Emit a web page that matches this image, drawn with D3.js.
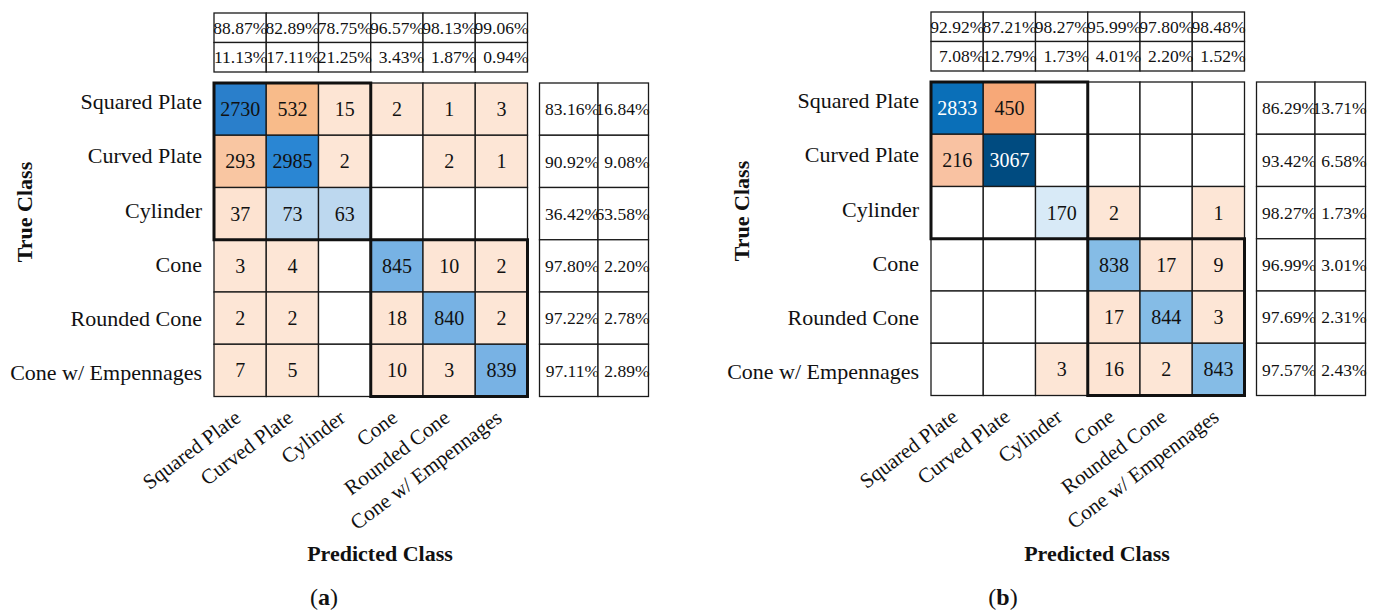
<!DOCTYPE html>
<html>
<head>
<meta charset="utf-8">
<script src="https://cdn.jsdelivr.net/npm/d3@7"></script>
<style>
  html, body { margin: 0; padding: 0; background: #fff; }
  svg { display: block; }
  text { font-family: "Liberation Serif", "Times New Roman", serif; fill: #111; }
</style>
</head>
<body>
<svg id="chart" width="1375" height="610"></svg>
<script>
// Class names shared by both confusion matrices
const classes = ["Squared Plate", "Curved Plate", "Cylinder", "Cone", "Rounded Cone", "Cone w/ Empennages"];

// (a) counts: rows = true class, columns = predicted class (0 = empty cell)
const countsA = [
  [2730, 532, 15, 2, 1, 3],
  [293, 2985, 2, 0, 2, 1],
  [37, 73, 63, 0, 0, 0],
  [3, 4, 0, 845, 10, 2],
  [2, 2, 0, 18, 840, 2],
  [7, 5, 0, 10, 3, 839]
];
// (a) column summary (precision / false discovery) and row summary (recall / miss rate), in %
const colCorrectA = [88.87, 82.89, 78.75, 96.57, 98.13, 99.06];
const colWrongA   = [11.13, 17.11, 21.25, 3.43, 1.87, 0.94];
const rowCorrectA = [83.16, 90.92, 36.42, 97.80, 97.22, 97.11];
const rowWrongA   = [16.84, 9.08, 63.58, 2.20, 2.78, 2.89];

// (b) counts
const countsB = [
  [2833, 450, 0, 0, 0, 0],
  [216, 3067, 0, 0, 0, 0],
  [0, 0, 170, 2, 0, 1],
  [0, 0, 0, 838, 17, 9],
  [0, 0, 0, 17, 844, 3],
  [0, 0, 3, 16, 2, 843]
];
const colCorrectB = [92.92, 87.21, 98.27, 95.99, 97.80, 98.48];
const colWrongB   = [7.08, 12.79, 1.73, 4.01, 2.20, 1.52];
const rowCorrectB = [86.29, 93.42, 98.27, 96.99, 97.69, 97.57];
const rowWrongB   = [13.71, 6.58, 1.73, 3.01, 2.31, 2.43];

// Class groups outlined with a heavy border
const groups = [[0, 2], [3, 5]];

const svg = d3.select("#chart");
const pct = v => v.toFixed(2) + "%";

function drawPanel(p) {
  const g = svg.append("g");
  const x = d3.scaleBand().domain(classes).range([p.left, p.left + p.size]);
  const y = d3.scaleBand().domain(classes).range([p.top, p.top + p.size]);
  const bw = x.bandwidth(), bh = y.bandwidth();

  // colour scales: blue for correct / dominant predictions, orange for the rest
  const blue = d3.scaleLinear().domain(p.blueDomain).range(p.blueRange).clamp(true);
  const orange = d3.scaleLinear().domain(p.orangeDomain).range(p.orangeRange).clamp(true);

  const cells = [];
  p.counts.forEach((row, i) => row.forEach((v, j) => {
    const isBlue = i === j || v > row[i];
    const fill = v === 0 ? "#ffffff" : (isBlue ? blue(v) : orange(v));
    cells.push({ i, j, v, fill });
  }));

  const cg = g.selectAll("g.cell").data(cells).join("g").attr("class", "cell");
  cg.append("rect")
    .attr("x", d => x(classes[d.j]))
    .attr("y", d => y(classes[d.i]))
    .attr("width", bw).attr("height", bh)
    .attr("fill", d => d.fill)
    .attr("stroke", "#1a1a1a").attr("stroke-width", 1.3);
  cg.filter(d => d.v > 0).append("text")
    .attr("x", d => x(classes[d.j]) + bw / 2)
    .attr("y", d => y(classes[d.i]) + bh / 2)
    .attr("dy", "0.35em")
    .attr("text-anchor", "middle")
    .style("font-size", "20px")
    .style("fill", d => d3.hsl(d.fill).l < 0.45 ? "#ffffff" : "#111")
    .text(d => d.v);

  // heavy group outlines
  g.selectAll("rect.group").data(groups).join("rect")
    .attr("class", "group")
    .attr("x", d => x(classes[d[0]]))
    .attr("y", d => y(classes[d[0]]))
    .attr("width", d => x(classes[d[1]]) + bw - x(classes[d[0]]))
    .attr("height", d => y(classes[d[1]]) + bh - y(classes[d[0]]))
    .attr("fill", "none").attr("stroke", "#111").attr("stroke-width", 3);

  // column summary table above the matrix
  const ty = d3.scaleBand().domain([0, 1]).range([p.top - 70, p.top - 11]);
  [p.colCorrect, p.colWrong].forEach((vals, r) => {
    const rg = g.append("g");
    rg.selectAll("rect").data(vals).join("rect")
      .attr("x", (d, j) => x(classes[j]))
      .attr("y", ty(r)).attr("width", bw).attr("height", ty.bandwidth())
      .attr("fill", "#fff").attr("stroke", "#1a1a1a").attr("stroke-width", 1.3);
    rg.selectAll("text").data(vals).join("text")
      .attr("x", (d, j) => x(classes[j]) + bw + 1)
      .attr("y", ty(r) + ty.bandwidth() / 2)
      .attr("dy", "0.35em").attr("text-anchor", "end")
      .style("font-size", "17.5px")
      .text(pct);
  });

  // row summary table to the right
  const rx0 = p.left + p.size + 12;
  const tx = [rx0, rx0 + 58.5, rx0 + 109];
  [p.rowCorrect, p.rowWrong].forEach((vals, c) => {
    const cgp = g.append("g");
    cgp.selectAll("rect").data(vals).join("rect")
      .attr("x", tx[c]).attr("y", (d, i) => y(classes[i]))
      .attr("width", tx[c + 1] - tx[c]).attr("height", bh)
      .attr("fill", "#fff").attr("stroke", "#1a1a1a").attr("stroke-width", 1.3);
    cgp.selectAll("text").data(vals).join("text")
      .attr("x", tx[c + 1] + 1)
      .attr("y", (d, i) => y(classes[i]) + bh / 2)
      .attr("dy", "0.35em").attr("text-anchor", "end")
      .style("font-size", "17.5px")
      .text(pct);
  });

  // row (true class) labels
  const yl = d3.scaleBand().domain(classes).range([p.top - 8, p.top + p.size + 4]);
  const ya = g.append("g")
    .attr("transform", `translate(${p.left},0)`)
    .call(d3.axisLeft(yl).tickSize(0).tickPadding(12));
  ya.select(".domain").remove();
  ya.selectAll("text").style("font-size", "22px").attr("fill", "#111")
    .style("font-family", "'Liberation Serif', serif");

  // column (predicted class) labels, slanted
  const xa = g.append("g")
    .attr("transform", `translate(0,${p.top + p.size})`)
    .call(d3.axisBottom(x).tickSize(0));
  xa.select(".domain").remove();
  xa.selectAll("text")
    .attr("y", 0).attr("dy", 0)
    .attr("text-anchor", "end")
    .attr("transform", "translate(2,24) rotate(-37)")
    .style("font-size", "21px").attr("fill", "#111")
    .style("font-family", "'Liberation Serif', serif");

  // axis titles
  g.append("text")
    .attr("transform", `translate(${p.left - 190},${p.top + 129}) rotate(-90)`)
    .attr("text-anchor", "middle").attr("dy", "0.35em")
    .style("font-size", "22px").style("font-weight", "bold")
    .text("True Class");
  g.append("text")
    .attr("x", p.left + 166).attr("y", 561)
    .attr("text-anchor", "middle")
    .style("font-size", "22px").style("font-weight", "bold")
    .text("Predicted Class");

  // panel tag
  const tag = g.append("text")
    .attr("x", p.tagX).attr("y", 605)
    .attr("text-anchor", "middle")
    .style("font-size", "24px");
  tag.append("tspan").text("(");
  tag.append("tspan").style("font-weight", "bold").text(p.tag);
  tag.append("tspan").text(")");
}

drawPanel({
  left: 214, top: 83, size: 313.5,
  counts: countsA,
  colCorrect: colCorrectA, colWrong: colWrongA,
  rowCorrect: rowCorrectA, rowWrong: rowWrongA,
  blueDomain: [63, 845, 2730, 2985],
  blueRange: ["#bdd8ef", "#77b2e4", "#2a7fcb", "#2a86d3"],
  orangeDomain: [1, 37, 293, 532],
  orangeRange: ["#fde6d6", "#fde3d1", "#f9c6a2", "#f8bb8a"],
  tag: "a", tagX: 324
});

drawPanel({
  left: 931, top: 82, size: 313.5,
  counts: countsB,
  colCorrect: colCorrectB, colWrong: colWrongB,
  rowCorrect: rowCorrectB, rowWrong: rowWrongB,
  blueDomain: [170, 840, 2833, 3067],
  blueRange: ["#d8eaf7", "#85bce6", "#0a6fb8", "#004b80"],
  orangeDomain: [1, 17, 216, 450],
  orangeRange: ["#fde6d6", "#fde4d3", "#f9c2a2", "#f7a878"],
  tag: "b", tagX: 1003
});
</script>
</body>
</html>
